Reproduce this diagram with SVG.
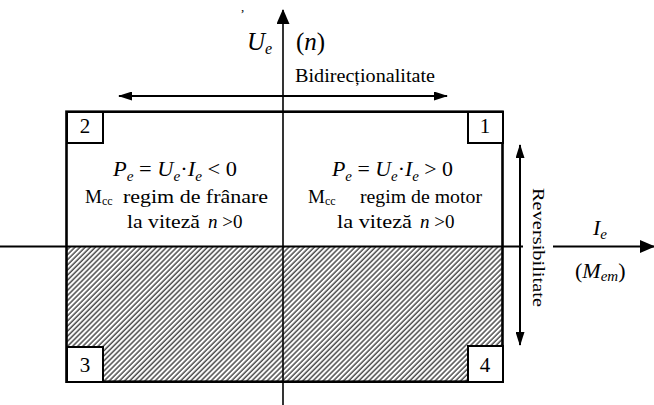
<svg xmlns="http://www.w3.org/2000/svg" width="654" height="405" viewBox="0 0 654 405" font-family="'Liberation Serif', 'DejaVu Serif', serif">
<style>
text{font-family:'Liberation Serif','DejaVu Serif',serif;fill:#000}
.i{font-style:italic}
.f{font-size:22px}
.t{font-size:19px}
.num{font-size:21px;text-anchor:middle}
.ln{stroke:#000;fill:none}
.box{fill:#fff;stroke:#000;stroke-width:2}
</style>
<defs>
<pattern id="hatch" width="3.6" height="3.6" patternUnits="userSpaceOnUse" patternTransform="rotate(45)">
<line x1="1" y1="0" x2="1" y2="3.6" stroke="#000" stroke-width="1.05"/>
</pattern>
<marker id="ah" markerWidth="15" markerHeight="13" refX="14" refY="6.5" orient="auto-start-reverse" markerUnits="userSpaceOnUse"><path d="M0,0 L15,6.5 L0,13 z" fill="#000"/></marker>
<marker id="sh" markerWidth="14" markerHeight="9" refX="13" refY="4.5" orient="auto-start-reverse" markerUnits="userSpaceOnUse"><path d="M0,0 L14,4.5 L0,9 z" fill="#000"/></marker>
</defs>
<rect width="654" height="405" fill="#fff"/>
<text x="241" y="11" style="font-size:13px">,</text>
<g id="frame">
<rect x="67" y="246.5" width="435.5" height="135" fill="url(#hatch)"/>
<rect x="66.5" y="111.7" width="436" height="270" fill="none" stroke="#000" stroke-width="2.6"/>
</g>
<g id="connectors">
<line class="ln" x1="283" y1="405" x2="283" y2="10" stroke-width="1.6" marker-end="url(#ah)"/>
<line class="ln" x1="0" y1="246.5" x2="523" y2="246.5" stroke-width="2"/>
<line class="ln" x1="553" y1="246.5" x2="654" y2="246.5" stroke-width="2" marker-end="url(#ah)"/>
<line class="ln" x1="119" y1="96" x2="447" y2="96" stroke-width="2" marker-start="url(#sh)" marker-end="url(#sh)"/>
<line class="ln" x1="520" y1="145" x2="520" y2="345" stroke-width="2" marker-start="url(#sh)" marker-end="url(#sh)"/>
</g>
<g id="axis-labels">
<text x="247" y="50" style="font-size:25px"><tspan class="i">U</tspan><tspan class="i" style="font-size:16px" dy="4">e</tspan></text>
<text x="296" y="50" style="font-size:25px">(<tspan class="i">n</tspan>)</text>
<text x="295" y="82" style="font-size:18px" textLength="140" lengthAdjust="spacingAndGlyphs">Bidirecționalitate</text>
<text transform="translate(533,247.5) rotate(90)" x="0" y="0" text-anchor="middle" style="font-size:17px" textLength="119" lengthAdjust="spacingAndGlyphs">Reversibilitate</text>
<text x="593" y="235" class="f"><tspan class="i">I</tspan><tspan class="i" style="font-size:15px" dy="4">e</tspan></text>
<text x="575" y="278" class="f">(<tspan class="i">M</tspan><tspan class="i" style="font-size:15px" dy="3">em</tspan><tspan dy="-3">)</tspan></text>
</g>
<g id="q2">
<rect class="box" x="67" y="112" width="36" height="31"/>
<text class="num" x="85" y="133">2</text>
<text class="f" x="113" y="176" textLength="124" lengthAdjust="spacingAndGlyphs"><tspan class="i">P</tspan><tspan class="i" style="font-size:15px" dy="5">e</tspan><tspan dy="-5"> = </tspan><tspan class="i">U</tspan><tspan class="i" style="font-size:15px" dy="5">e</tspan><tspan dy="-5">·</tspan><tspan class="i">I</tspan><tspan class="i" style="font-size:15px" dy="5">e</tspan><tspan dy="-5"> &lt; 0</tspan></text>
<text class="t" x="85" y="203">M<tspan style="font-size:12px" dy="2">cc</tspan></text>
<text class="t" x="123" y="203" textLength="145" lengthAdjust="spacingAndGlyphs">regim de frânare</text>
<text class="t" x="127" y="228" textLength="73" lengthAdjust="spacingAndGlyphs">la viteză</text>
<text class="t" x="208" y="228"><tspan class="i">n</tspan> &gt;0</text>
</g>
<g id="q1">
<rect class="box" x="468" y="112" width="35" height="31"/>
<text class="num" x="485" y="133">1</text>
<text class="f" x="332" y="176" textLength="121" lengthAdjust="spacingAndGlyphs"><tspan class="i">P</tspan><tspan class="i" style="font-size:15px" dy="5">e</tspan><tspan dy="-5"> = </tspan><tspan class="i">U</tspan><tspan class="i" style="font-size:15px" dy="5">e</tspan><tspan dy="-5">·</tspan><tspan class="i">I</tspan><tspan class="i" style="font-size:15px" dy="5">e</tspan><tspan dy="-5"> &gt; 0</tspan></text>
<text class="t" x="308" y="203">M<tspan style="font-size:12px" dy="2">cc</tspan></text>
<text class="t" x="360" y="203" textLength="122" lengthAdjust="spacingAndGlyphs">regim de motor</text>
<text class="t" x="337" y="228" textLength="75" lengthAdjust="spacingAndGlyphs">la viteză</text>
<text class="t" x="420" y="228"><tspan class="i">n</tspan> &gt;0</text>
</g>
<g id="q3">
<rect class="box" x="67" y="347" width="36" height="35"/>
<text class="num" x="85" y="372">3</text>
</g>
<g id="q4">
<rect class="box" x="468" y="346" width="35" height="36"/>
<text class="num" x="485" y="372">4</text>
</g>
</svg>
